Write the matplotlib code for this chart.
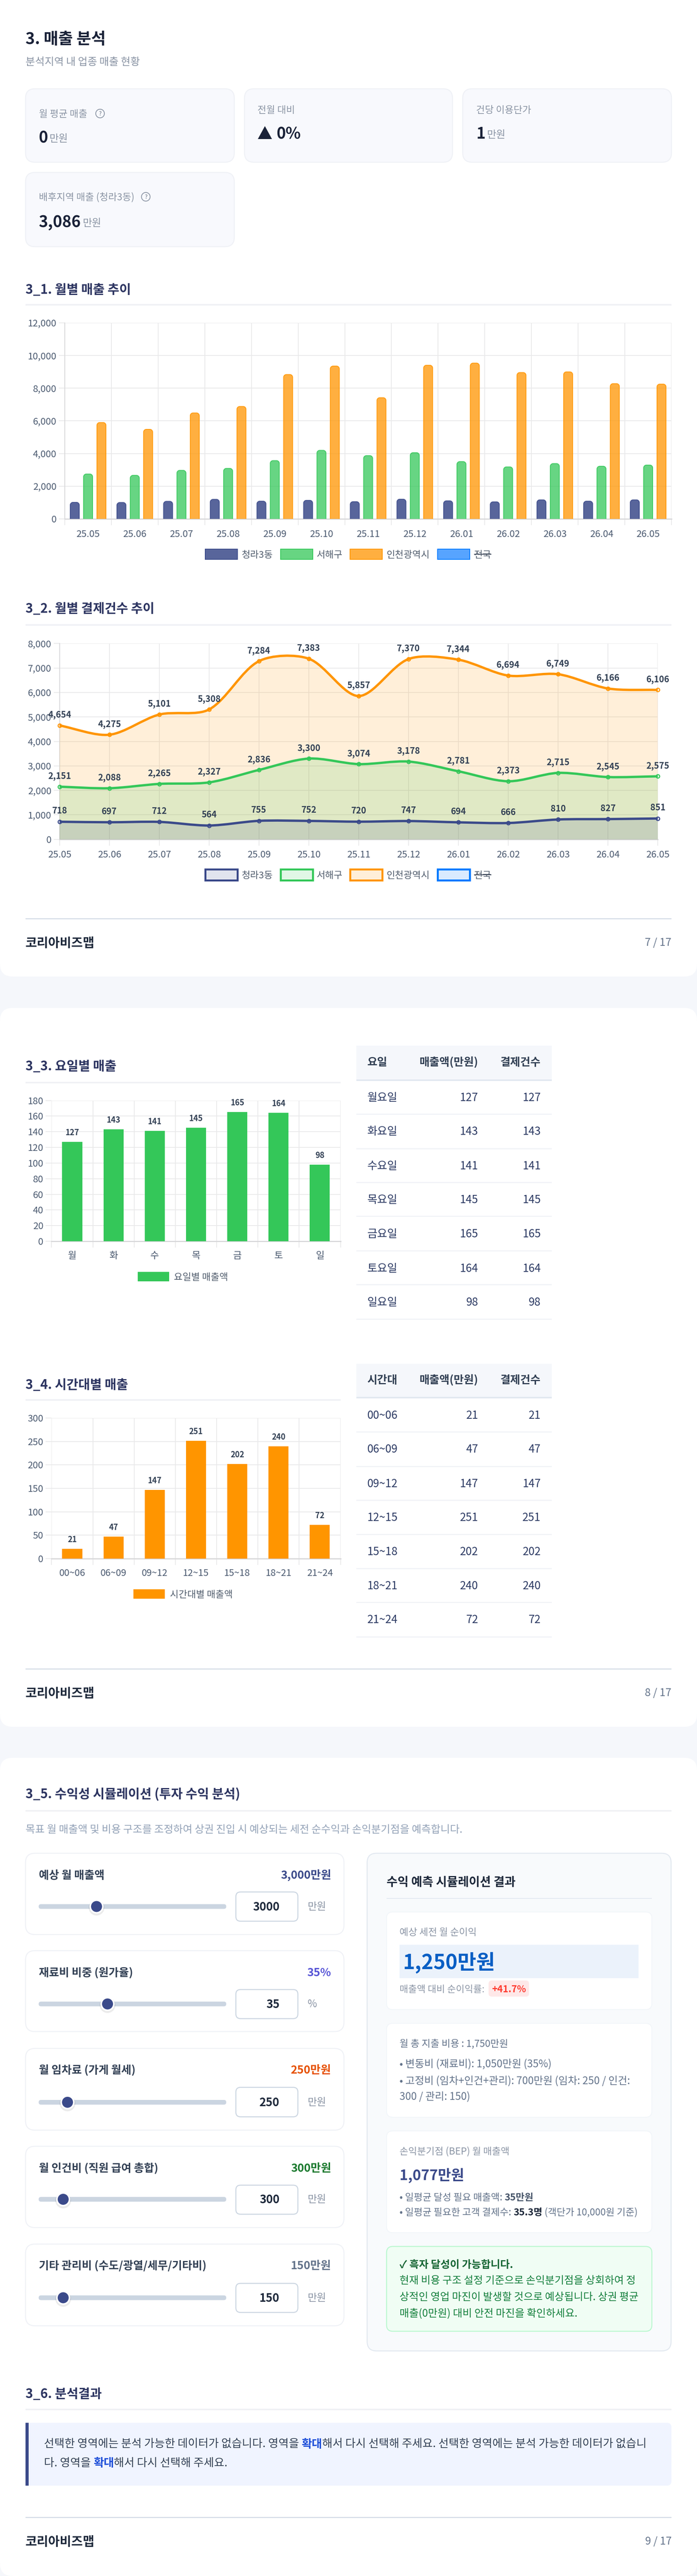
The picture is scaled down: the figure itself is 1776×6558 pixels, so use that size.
import numpy as np
import matplotlib
matplotlib.use("Agg")
import matplotlib.pyplot as plt
from matplotlib.patches import FancyBboxPatch, Rectangle, Circle, Polygon, PathPatch
from matplotlib.path import Path
from matplotlib.font_manager import FontProperties

plt.rcParams['font.family'] = ['Noto Sans CJK KR', 'DejaVu Sans']
plt.rcParams['axes.unicode_minus'] = False

# ---- data ----
months = ['25.05','25.06','25.07','25.08','25.09','25.10','25.11','25.12','26.01','26.02','26.03','26.04','26.05']
sales_local = [1013,1003,1074,1196,1084,1135,1054,1206,1105,1044,1165,1084,1165]
sales_gu = [2747,2665,2970,3091,3568,4196,3872,4054,3507,3182,3385,3223,3294]
sales_city = [5899,5483,6486,6882,8838,9355,7419,9405,9537,8959,9000,8280,8250]
tx_local = [718,697,712,564,755,752,720,747,694,666,810,827,851]
tx_gu = [2151,2088,2265,2327,2836,3300,3074,3178,2781,2373,2715,2545,2575]
tx_city = [4654,4275,5101,5308,7284,7383,5857,7370,7344,6694,6749,6166,6106]
series_names = ['청라3동','서해구','인천광역시','전국']
day_short = ['월','화','수','목','금','토','일']
day_long = ['월요일','화요일','수요일','목요일','금요일','토요일','일요일']
day_sales = [127,143,141,145,165,164,98]
day_count = [127,143,141,145,165,164,98]
hours = ['00~06','06~09','09~12','12~15','15~18','18~21','21~24']
hour_sales = [21,47,147,251,202,240,72]
hour_count = [21,47,147,251,202,240,72]
sim_titles = ['예상 월 매출액','재료비 비중 (원가율)','월 임차료 (가게 월세)','월 인건비 (직원 급여 총합)','기타 관리비 (수도/광열/세무/기타비)']
sim_values = ['3,000만원','35%','250만원','300만원','150만원']
sim_inputs = ['3000','35','250','300','150']
sim_units = ['만원','%','만원','만원','만원']

# ---- colours ----
NAVY='#3b4a8a'; GREEN='#34c759'; ORANGE='#ff9500'; BLUE='#007aff'
PAGE='#f5f7fb'; GRID='#e9e9ea'; AXISC='#d8d8da'; TICKC='#4b5a70'; HEAD='#2d3561'
W,H=1776,6558
fig=plt.figure(figsize=(W/100,H/100),dpi=100,facecolor=PAGE)
bg=fig.add_axes([0,0,1,1],zorder=0); bg.set_xlim(0,W); bg.set_ylim(H,0); bg.axis('off')
renderer=fig.canvas.get_renderer()

def pt(px): return px*0.72
def box(x0,y0,x1,y1,fc='white',ec='none',lw=0,r=0,z=1):
    if r>0:
        p=FancyBboxPatch((x0,y0),x1-x0,y1-y0,boxstyle=f'round,pad=0,rounding_size={r}',fc=fc,ec=ec,lw=pt(lw),zorder=z)
    else:
        p=Rectangle((x0,y0),x1-x0,y1-y0,fc=fc,ec=ec,lw=pt(lw),zorder=z)
    bg.add_patch(p); return p
def T(x,yc,s,size,color='#1e293b',weight='normal',ha='left',z=5):
    return bg.text(x,yc+0.36*size,s,fontsize=pt(size),color=color,fontweight=weight,ha=ha,va='baseline',zorder=z)
def adv(s,size,weight):
    fp=FontProperties(family=plt.rcParams['font.family'],size=pt(size),weight=weight)
    a=renderer.get_text_width_height_descent(s+'|',fp,False)[0]
    b=renderer.get_text_width_height_descent('|',fp,False)[0]
    return a-b
def rich(x,yc,parts,size):
    for s,c,w in parts:
        T(x,yc,s,size,c,w)
        x+=adv(s,size,w)
    return x
def ax_at(l,t,r,b):
    a=fig.add_axes([l/W,1-b/H,(r-l)/W,(b-t)/H],zorder=2,facecolor='none')
    return a
def heading(y,s,ruley,x1=1711):
    T(65,y+1,s,32.5,HEAD,'bold')
    box(65,ruley-2,x1,ruley+2,fc='#f0f1f5')
def footer(ruley,page):
    box(65,ruley-1,1711,ruley+1,fc='#cbd5e1')
    T(65,ruley+60,'코리아비즈맵',32,'#1e293b','bold')
    T(1711,ruley+59,page,27,'#64748b',ha='right')

# cards
box(0,-40,W,2486,r=32)
box(0,2566,W,4396,r=32)
box(0,4475,W,6558,r=32)

# ---- header / KPI ----
T(65,97,'3. 매출 분석',40.5,'#1a2238','bold')
T(65,156,'분석지역 내 업종 매출 현황',26.5,'#8b95a5')
KF='#f8f9fd'; KE='#eff1f6'
for x0,x1,y0,y1 in [(65,597,226,413),(623,1153,226,413),(1179,1711,226,413),(65,597,439,628)]:
    box(x0,y0,x1,y1,fc=KF,ec=KE,lw=2.5,r=24)
def helpicon(x,y):
    bg.add_patch(Circle((x,y),11,fc='none',ec='#8b95a5',lw=pt(2),zorder=5))
    T(x,y,'?',15,'#6b7686',ha='center')
T(98.5,289,'월 평균 매출',24.5,'#8b95a5'); helpicon(255,289)
T(98.5,349,'0',40,'#1a2238','bold'); T(125.7,352,'만원',26,'#8b95a5')
T(656,279,'전월 대비',24.5,'#8b95a5')
bg.add_patch(Polygon([(657,354),(675,321),(693,354)],closed=True,fc='#1a2238',ec='none',zorder=5))
T(704,339,'0%',40,'#1a2238','bold')
T(1213,279,'건당 이용단가',24.5,'#8b95a5')
T(1214,339,'1',40,'#1a2238','bold'); T(1241,342,'만원',26,'#8b95a5')
T(98.5,501,'배후지역 매출 (청라3동)',24.5,'#8b95a5'); helpicon(371.5,501)
T(98.5,564,'3,086',40,'#1a2238','bold'); T(210.6,567,'만원',26,'#8b95a5')

def style_axes(a,ticklen_y=15):
    for s in a.spines.values(): s.set_visible(False)
    a.set_axisbelow(True)
    a.tick_params(axis='y',length=pt(ticklen_y),width=pt(2),color=GRID,labelsize=pt(24),labelcolor=TICKC,pad=pt(6))
    a.grid(axis='y',color=GRID,lw=pt(2))

def legend_row(y,items,thick=False):
    for x0,fc,ec,label,xt,strike in items:
        lw=5 if thick else 2
        h=13 if not thick else 14
        box(x0,y-h,x0+82,y+h,fc=fc,ec=ec,lw=lw,z=3)
        t=T(xt,y,label,24,'#525e6e')
        if strike:
            wd=adv(label,24,'normal')
            box(xt,y-1,xt+wd,y+1,fc='#3b4658',z=6)

# ---- 3_1 grouped bars ----
heading(735,'3_1. 월별 매출 추이',776)
a1=ax_at(165,822,1711,1321)
style_axes(a1)
a1.set_ylim(0,12000); a1.set_xlim(-0.5,12.5)
a1.set_yticks(np.arange(0,12001,2000)); a1.set_yticklabels([f'{v:,}' for v in range(0,12001,2000)])
a1.set_xticks(range(13)); a1.set_xticklabels(months)
a1.set_xticks(np.arange(-0.5,13,1),minor=True)
a1.tick_params(axis='x',which='major',length=pt(16),width=0,labelsize=pt(24),labelcolor=TICKC,pad=pt(12))
a1.tick_params(axis='x',which='minor',length=pt(16),width=pt(2),color=GRID)
a1.grid(axis='x',which='minor',color=GRID,lw=pt(2))
a1.axvline(-0.5,color=AXISC,lw=pt(2),clip_on=False)
a1.axhline(0,color=AXISC,lw=pt(3),clip_on=False)
sx1=(1711-165)/13; sy1=(1321-822)/12000
def round_top(x0,x1,y,rx,ry):
    k=0.55
    v=[(x0,0),(x0,y-ry),(x0,y-ry+ry*k),(x0+rx-rx*k,y),(x0+rx,y),(x1-rx,y),(x1-rx+rx*k,y),(x1,y-ry+ry*k),(x1,y-ry),(x1,0)]
    c=[Path.MOVETO,Path.LINETO,Path.CURVE4,Path.CURVE4,Path.CURVE4,Path.LINETO,Path.CURVE4,Path.CURVE4,Path.CURVE4,Path.LINETO]
    return Path(v,c)
bw=23/sx1
for off,vals,col,al in [(-34/sx1,sales_local,NAVY,.85),(0,sales_gu,GREEN,.75),(34/sx1,sales_city,ORANGE,.75)]:
    bars=a1.bar(np.arange(13)+off,vals,width=bw,color=col,alpha=al,lw=0,zorder=3)
    for r,v in zip(bars,vals):
        x0=r.get_x(); x1=x0+r.get_width()
        p=round_top(x0,x1,v,7/sx1,7/sy1)
        clip=PathPatch(p,transform=a1.transData)
        r.set_clip_path(clip)
        a1.add_patch(PathPatch(p,fc='none',ec=col,lw=pt(2),zorder=4,alpha=.9))
legend_row(1411,[(523,'#58659b',NAVY,series_names[0],616,False),(715,'#67d582',GREEN,series_names[1],807,False),
                 (892,'#ffaf40',ORANGE,series_names[2],984,False),(1115,'#57a4ff',BLUE,series_names[3],1208,True)])

# ---- 3_2 area lines ----
heading(1547,'3_2. 월별 결제건수 추이',1591)
a2=ax_at(151.8,1638.5,1676,2136.7)
style_axes(a2)
a2.set_xlim(0,12); a2.set_ylim(0,8000)
a2.set_yticks(np.arange(0,8001,1000)); a2.set_yticklabels([f'{v:,}' for v in range(0,8001,1000)])
a2.set_xticks(range(13)); a2.set_xticklabels(months)
a2.tick_params(axis='x',length=pt(16),width=pt(2),color=GRID,labelsize=pt(24),labelcolor=TICKC,pad=pt(12))
a2.grid(axis='x',color=GRID,lw=pt(2))
a2.axvline(0,color=AXISC,lw=pt(2),clip_on=False)
a2.axhline(0,color=AXISC,lw=pt(3),clip_on=False)
sx2=(1676-151.8)/12; sy2=(2136.7-1638.5)/8000
def chartjs_path(vals,t=0.3):
    n=len(vals); X=np.arange(n,dtype=float); Y=np.array(vals,dtype=float)
    verts=[(X[0],Y[0])]; codes=[Path.MOVETO]
    cp_prev=[None]*n; cp_next=[None]*n
    for i in range(n):
        i0=max(i-1,0); i2=min(i+1,n-1)
        d01=np.hypot((X[i]-X[i0])*sx2,(Y[i]-Y[i0])*sy2); d12=np.hypot((X[i2]-X[i])*sx2,(Y[i2]-Y[i])*sy2)
        s=d01+d12
        fa=t*d01/s; fb=t*d12/s
        dx=X[i2]-X[i0]; dy=Y[i2]-Y[i0]
        cp_prev[i]=(X[i]-fa*dx,Y[i]-fa*dy); cp_next[i]=(X[i]+fb*dx,Y[i]+fb*dy)
    for i in range(n-1):
        verts+= [cp_next[i],cp_prev[i+1],(X[i+1],Y[i+1])]; codes+=[Path.CURVE4]*3
    return verts,codes
for vals,col,z in [(tx_city,ORANGE,3),(tx_gu,GREEN,4),(tx_local,NAVY,5)]:
    v,c=chartjs_path(vals)
    fill=Path(v+[(12,0),(0,0),(0,0)],c+[Path.LINETO,Path.LINETO,Path.CLOSEPOLY])
    a2.add_patch(PathPatch(fill,fc=col,ec='none',alpha=.15,zorder=z-1))
for vals,col,z in [(tx_city,ORANGE,8),(tx_gu,GREEN,7),(tx_local,NAVY,6)]:
    v,c=chartjs_path(vals)
    a2.add_patch(PathPatch(Path(v,c),fc='none',ec=col,lw=pt(6),zorder=z,capstyle='round',joinstyle='round'))
    r,g,b=matplotlib.colors.to_rgb(col)
    a2.plot(range(13),vals,ls='none',marker='o',ms=pt(9),mfc=(r,g,b,.15),mec=col,mew=pt(2.5),zorder=z+.5,clip_on=False)
    for i,val in enumerate(vals):
        a2.annotate(f'{val:,}',(i,val),xytext=(0,pt(27)),textcoords='offset points',ha='center',va='center',
                    fontsize=pt(22),fontweight='bold',color='#334155',zorder=12,annotation_clip=False)
legend_row(2227,[(523,'#e1e4ee',NAVY,series_names[0],616,False),(715,'#e1f7e6',GREEN,series_names[1],807,False),
                 (892,'#ffefd9',ORANGE,series_names[2],984,False),(1115,'#d9ebff',BLUE,series_names[3],1208,True)],thick=True)
footer(2339,'7 / 17')

# ---- 3_3 / 3_4 single bars ----
def single_bar(top,bottom,ymax,step,labels,vals,col):
    a=ax_at(131.4,top,867.5,bottom)
    style_axes(a)
    a.set_xlim(-0.5,6.5); a.set_ylim(0,ymax)
    ticks=np.arange(0,ymax+1,step)
    a.set_yticks(ticks); a.set_yticklabels([str(v) for v in ticks])
    a.set_xticks(range(7)); a.set_xticklabels(labels)
    a.set_xticks(np.arange(-0.5,7,1),minor=True)
    a.tick_params(axis='x',which='major',length=pt(16),width=0,labelsize=pt(24),labelcolor=TICKC,pad=pt(10))
    a.tick_params(axis='x',which='minor',length=pt(16),width=pt(2),color=GRID)
    a.grid(axis='x',which='minor',color=GRID,lw=pt(2))
    a.axhline(0,color=AXISC,lw=pt(3),clip_on=False)
    a.bar(range(7),vals,width=0.486,color=col,zorder=3)
    for i,v in enumerate(vals):
        a.annotate(str(v),(i,v),xytext=(0,pt(23.5)),textcoords='offset points',ha='center',va='center',
                   fontsize=pt(20),fontweight='bold',color='#334155',zorder=6,annotation_clip=False)
    return a
def table(top,hdr_bot,seps,headers,col1,col2,col3,textys):
    box(908,top,1405.5,hdr_bot,fc='#f5f7fb')
    box(908,hdr_bot-4,1405.5,hdr_bot,fc='#e2e8f0')
    hy=(top+hdr_bot)/2-4
    T(935.5,hy,headers[0],28,'#334155','bold')
    T(1218.6,hy,headers[1],28,'#334155','bold',ha='right')
    T(1378,hy,headers[2],28,'#334155','bold',ha='right')
    for s in seps: box(908,s-1.5,1405.5,s+1.5,fc='#f1f3f7')
    for y,a,b,c in zip(textys,col1,col2,col3):
        T(935.5,y,a,28,'#2c3a63')
        T(1218.6,y,str(b),28,'#2c3a63',ha='right')
        T(1378,y,str(c),28,'#2c3a63',ha='right')

heading(2712,'3_3. 요일별 매출',2756,868)
single_bar(2801.5,3160,180,20,day_short,day_sales,GREEN)
box(351,3238,431,3262,fc=GREEN,z=3); T(443,3250,'요일별 매출액',24,'#525e6e')
seps1=[2836.6,2924.6,3010.7,3096.8,3184.8,3270.9,3358]
ys1=[2793,2879,2967,3053,3139.5,3227.5,3313.6]
table(2662,2752,seps1,['요일','매출액(만원)','결제건수'],day_long,day_sales,day_count,ys1)

heading(3523,'3_4. 시간대별 매출',3564,868)
single_bar(3610,3968,300,50,hours,hour_sales,ORANGE)
box(340,4046,420,4070,fc=ORANGE,z=3); T(433,4058,'시간대별 매출액',24,'#525e6e')
seps2=[3645,3733,3819,3906,3993,4079,4167]
ys2=[3602,3688,3776,3862,3949,4036,4122]
table(3472,3560,seps2,['시간대','매출액(만원)','결제건수'],hours,hour_sales,hour_count,ys2)
footer(4249,'8 / 17')

# ---- 3_5 simulator ----
heading(4566,'3_5. 수익성 시뮬레이션 (투자 수익 분석)',4610)
T(65,4656,'목표 월 매출액 및 비용 구조를 조정하여 상권 진입 시 예상되는 세전 순수익과 손익분기점을 예측합니다.',26.5,'#94a3b8')
panel_y=[(4718,4925),(4966,5172),(5215,5423),(5464,5671),(5713,5921)]
title_y=[4773,5021,5269,5519,5767]
slider_y=[4853.6,5101.7,5352,5599,5849.6]
thumb_x=[246,274,172,161,161]
input_h=[(4816.6,4891),(5065,5139),(5314,5389),(5563,5637),(5813,5887)]
val_col=[NAVY,'#5856d6','#e65100','#1b7a2f','#64748b']
for i in range(5):
    y0,y1=panel_y[i]
    box(65,y0,876.5,y1,ec='#eff1f6',lw=2.5,r=24)
    T(98.5,title_y[i],sim_titles[i],28,'#334155','bold')
    T(843.7,title_y[i],sim_values[i],28.5,val_col[i],'bold',ha='right')
    sy=slider_y[i]
    box(98.5,sy-6,576.5,sy+6,fc='#cbd5e1',r=6,z=2)
    bg.add_patch(Circle((thumb_x[i],sy+3),20,fc='#000000',alpha=.08,ec='none',zorder=3))
    bg.add_patch(Circle((thumb_x[i],sy),18,fc='white',ec='none',zorder=4))
    bg.add_patch(Circle((thumb_x[i],sy),14,fc=NAVY,ec='none',zorder=5))
    iy0,iy1=input_h[i]
    box(601,iy0,759,iy1,ec='#cbd5e1',lw=2.5,r=12)
    T(712,sy,sim_inputs[i],29,'#1e293b','bold',ha='right')
    T(784,sy-1,sim_units[i],26,'#8b95a5')

box(935.5,4718,1710,5985,fc='#f8fafc',ec='#e2e8f0',lw=2.5,r=24)
T(985,4790,'수익 예측 시뮬레이션 결과',30.5,'#1e293b','bold')
box(985,4831.5,1661,4833.5,fc='#e2e8f0',z=2)
box(985,4867.6,1661,5116,ec='#f1f5f9',lw=2,r=16,z=2)
T(1018,4918,'예상 세전 월 순이익',24.5,'#8b95a5')
box(1018,4950.5,1627.4,5036,fc='#ebf2fb',z=3)
T(1027,4994,'1,250만원',52,'#0a5fc4','bold')
T(1018,5063,'매출액 대비 순이익률:',24,'#8b95a5')
box(1245,5042,1348,5083,fc='#fee8e8',r=8,z=3)
T(1296.5,5063,'+41.7%',24,'#ff3b30','bold',ha='center')
box(985,5151,1661,5390,ec='#f1f5f9',lw=2,r=16,z=2)
T(1018,5202,'월 총 지출 비용 : 1,750만원',24.6,'#64748b')
T(1018,5253,'• 변동비 (재료비): 1,050만원 (35%)',26.3,'#64748b')
T(1018,5296,'• 고정비 (임차+인건+관리): 700만원 (임차: 250 / 인건:',26.3,'#64748b')
T(1018,5336,'300 / 관리: 150)',26.3,'#64748b')
box(985,5425,1661,5684,ec='#f1f5f9',lw=2,r=16,z=2)
T(1018,5476.5,'손익분기점 (BEP) 월 매출액',24.3,'#8b95a5')
T(1018,5537,'1,077만원',36.4,NAVY,'bold')
rich(1018,5593,[('• 일평균 달성 필요 매출액: ','#64748b','normal'),('35만원','#475569','bold')],24.4)
rich(1018,5631,[('• 일평균 필요한 고객 결제수: ','#64748b','normal'),('35.3명','#1e293b','bold'),(' (객단가 10,000원 기준)','#64748b','normal')],24.4)
box(985,5719,1661,5935,fc='#f0fdf4',ec='#bbf7d0',lw=2.5,r=16,z=2)
T(1018,5764.5,'✓ 흑자 달성이 가능합니다.',26.5,'#166534','bold')
for y,s in [(5804,'현재 비용 구조 설정 기준으로 손익분기점을 상회하여 정'),(5846,'상적인 영업 마진이 발생할 것으로 예상됩니다. 상권 평균'),(5888,'매출(0만원) 대비 안전 마진을 확인하세요.')]:
    T(1018,y,s,26.5,'#15803d')

# ---- 3_6 ----
heading(6092,'3_6. 분석결과',6134)
box(65,6168,1711,6328,fc='#f0f4ff',r=12,z=1)
box(65,6168,73,6328,fc=NAVY,z=2)
INK='#334155'; HL='#1d4ed8'
rich(112,6221,[('선택한 영역에는 분석 가능한 데이터가 없습니다. 영역을 ',INK,'normal'),('확대',HL,'bold'),('해서 다시 선택해 주세요. 선택한 영역에는 분석 가능한 데이터가 없습니',INK,'normal')],28.5)
rich(112,6269,[('다. 영역을 ',INK,'normal'),('확대',HL,'bold'),('해서 다시 선택해 주세요.',INK,'normal')],28.5)
footer(6409,'9 / 17')

fig.savefig('out.png',dpi=100,facecolor=PAGE)
